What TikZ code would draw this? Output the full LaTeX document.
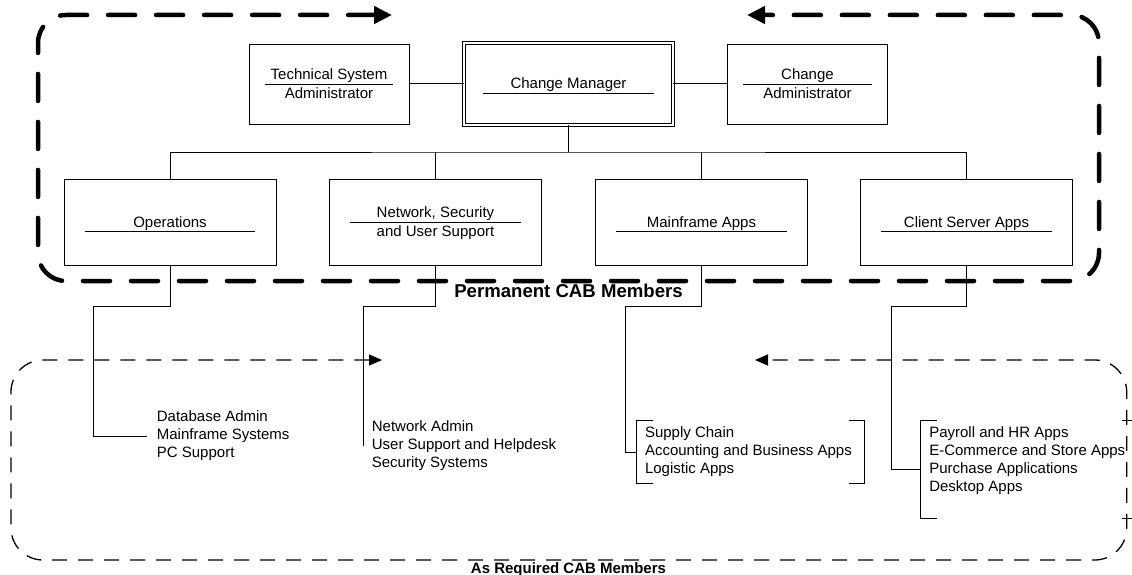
\documentclass[tikz,border=0pt]{standalone}
\usepackage{fontspec}
\setmainfont{Liberation Sans}
\usetikzlibrary{arrows.meta}
\tikzset{
    unit/.style={draw, line width=0.9pt, minimum width=212pt, minimum height=86pt, inner sep=0pt},
    head/.style={draw, line width=0.9pt, minimum width=160pt, minimum height=80pt, inner sep=0pt},
    chief/.style={draw, double, double distance=2pt, line width=0.9pt, minimum width=209pt, minimum height=82pt, inner sep=0pt},
    txt/.style={anchor=base, inner sep=0pt, font=\fontsize{15pt}{18pt}\selectfont},
    list/.style={anchor=west, align=left, inner sep=0pt, font=\fontsize{15pt}{17.9pt}\selectfont},
    sep/.style={line width=0.9pt},
    link/.style={line width=1pt},
    frame/.style={inner sep=0pt},
    grouptitle/.style={anchor=base, inner sep=0pt, font=\bfseries\fontsize{15pt}{18pt}\selectfont},
    perm/.style={line width=4.5pt, line cap=round, dash pattern=on 27pt off 21pt, rounded corners=28pt, >={Triangle[length=18pt,width=17pt]}, <->},
    req/.style={line width=1.3pt, dash pattern=on 15pt off 11pt, rounded corners=32pt, >={Triangle[length=13pt,width=11pt]}, <->},
}
\begin{document}
\begin{tikzpicture}[x=1pt, y=-1pt]
    \useasboundingbox (0,0) rectangle (1132,575);

    \node[head] (tsa) at (329,84) {};
    \node[chief] (cm) at (568.5,84) {};
    \node[head] (ca) at (807.5,84) {};
    \draw[sep] ([xshift=16pt]tsa.west) -- ([xshift=-16pt]tsa.east);
    \draw[sep] ([xshift=16pt]ca.west) -- ([xshift=-16pt]ca.east);
    \draw[sep] ([xshift=19pt,yshift=-9pt]cm.west) -- ([xshift=-19pt,yshift=-9pt]cm.east);
    \node[txt] (tsa-a) at ([yshift=4pt]tsa.center) {Technical System};
    \node[txt] (tsa-b) at ([yshift=-14.3pt]tsa.center) {Administrator};
    \node[txt] (cm-a) at ([yshift=-5pt]cm.center) {Change Manager};
    \node[txt] (ca-a) at ([yshift=4pt]ca.center) {Change};
    \node[txt] (ca-b) at ([yshift=-14.3pt]ca.center) {Administrator};
    \draw[link] (tsa) -- (cm);
    \draw[link] (cm) -- (ca);

    \foreach \nm/\x/\lbl in {ops/170/Operations, mfa/701.5/Mainframe Apps, csa/966.5/Client Server Apps}
        {\node[unit] (\nm) at (\x,222) {};
        \draw[sep] ([xshift=21pt,yshift=-9pt]\nm.west) -- ([xshift=-21pt,yshift=-9pt]\nm.east);
        \node[txt] (\nm-a) at ([yshift=-5pt]\nm.center) {\lbl};}
    \node[unit] (net) at (435.5,222) {};
    \draw[sep] ([xshift=21pt]net.west) -- ([xshift=-21pt]net.east);
    \node[txt] (net-a) at ([yshift=4.5pt]net.center) {Network, Security};
    \node[txt] (net-b) at ([yshift=-14pt]net.center) {and User Support};

    \coordinate (bus) at (568.5,152);
    \draw[link] (cm) -- (bus);
    \draw[link] (ops.north) |- (bus) -| (csa.north);
    \draw[link] (net.north) -- (net.north |- bus);
    \draw[link] (mfa.north) -- (mfa.north |- bus);

    \draw[perm] (392,15) -- (38,15) -- (38,281) -- (1099,281) -- (1099,15) -- (747,15);
    \node[grouptitle, font=\bfseries\fontsize{18.6pt}{20pt}\selectfont] (permt) at (568.5,297.3) {Permanent CAB Members};

    \coordinate (opsk) at (93.7,306.7);
    \node[list] (opsl) at (156.7,436) {Database Admin\\Mainframe Systems\\PC Support};
    \draw[link] (ops.south) |- (opsk) |- ([xshift=-10pt]opsl.west);

    \coordinate (netk) at (363.3,306.7);
    \coordinate (nete) at (363.3,446);
    \node[list] (netl) at (371.7,445.5) {Network Admin\\User Support and Helpdesk\\Security Systems};
    \draw[link] (net.south) |- (netk) -- (nete);

    \node[frame, minimum width=227.6pt, minimum height=62pt] (supf) at (750.5,452) {};
    \node[list] (supl) at ([xshift=8.3pt]supf.west) {Supply Chain\\Accounting and Business Apps\\Logistic Apps};
    \coordinate (mfak) at (625.7,306.7);
    \draw[link] (mfa.south) |- (mfak) |- (supf.west);
    \draw[link] ([xshift=16pt]supf.north west) -| (supf.south west) -- ++(16,0);
    \draw[link] ([xshift=-16pt]supf.north east) -| (supf.south east) -- ++(-16,0);

    \node[frame, minimum width=205.7pt, minimum height=97pt] (payf) at (1023.85,469.5) {};
    \node[list] (payl) at ([xshift=8.3pt,yshift=9pt]payf.west) {Payroll and HR Apps\\E-Commerce and Store Apps\\Purchase Applications\\Desktop Apps};
    \coordinate (csak) at (891.7,306.7);
    \draw[link] (csa.south) |- (csak) |- (payf.west);
    \draw[link] ([xshift=16pt]payf.north west) -| (payf.south west) -- ++(16,0);
    \draw[link] ([xshift=-5pt]payf.north east) -- ++(10,0);
    \draw[link] ([xshift=-5pt]payf.south east) -- ++(10,0);

    \draw[req] (382,360) -- (11,360) -- (11,560) -- (1126.7,560) -- (1126.7,360) -- (755,360);
    \node[grouptitle] (reqt) at (568.5,573.5) {As Required CAB Members};
\end{tikzpicture}
\end{document}
